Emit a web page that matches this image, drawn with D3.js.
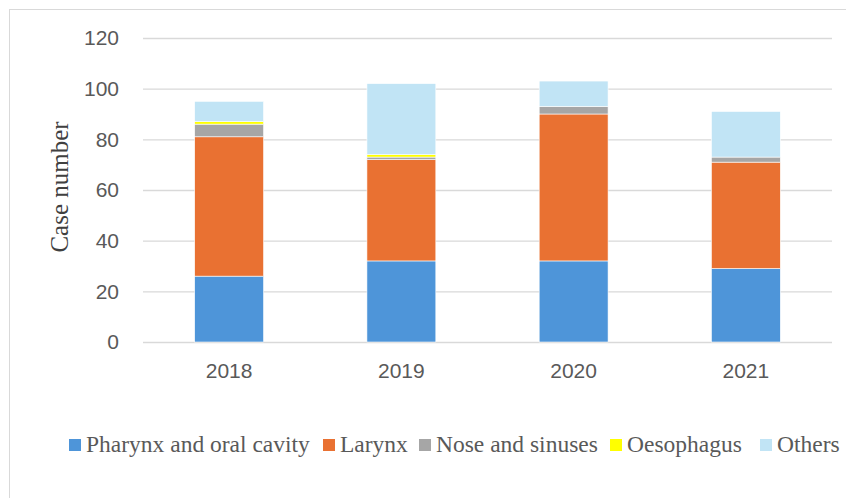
<!DOCTYPE html>
<html>
<head>
	<meta charset="utf-8">
	<title>Case number by year</title>
	<script src="https://cdn.jsdelivr.net/npm/d3@7"></script>
	<style type="text/css">
		body { margin: 0; background: #fff; }
		.tick text { fill: #595959; font-family: "Liberation Sans", Arial, sans-serif; font-size: 21px; }
	</style>
</head>
<body>

	<svg width="846" height="498" class="bar-chart"></svg>

	<script type="text/javascript">

		var years = ['2018', '2019', '2020', '2021']
		var series_names = ['Pharynx and oral cavity', 'Larynx', 'Nose and sinuses', 'Oesophagus', 'Others']
		var pharynx = [26, 32, 32, 29]
		var larynx = [55, 40, 58, 42]
		var nose = [5, 1, 3, 2]
		var oesophagus = [1, 1, 0, 0]
		var others = [8, 28, 10, 18]
		var y_ticks = [0, 20, 40, 60, 80, 100, 120]

		var colors = ['#4E95D9', '#E97132', '#A6A6A6', '#FFFF00', '#C1E4F5']
		var series_values = [pharynx, larynx, nose, oesophagus, others]

		// table for d3.stack
		var data = years.map(function(y, i) {
			var row = {'year': y}
			series_names.forEach(function(s, k) { row[s] = series_values[k][i] })
			return row
		})

		var svg = d3.select('.bar-chart')

		// outer frame (only left and top are visible)
		svg.append('rect')
			.attr('x', 9.5).attr('y', 9.5)
			.attr('width', 900).attr('height', 600)
			.attr('fill', 'none')
			.attr('stroke', '#d9d9d9')

		margin = {'top': 38, 'left': 143, 'right': 14, 'bottom': 156}
		active_width = 846 - margin.left - margin.right
		active_height = 498 - margin.top - margin.bottom

		var g = svg.append('g')
			.attr('transform', 'translate(' + margin.left + ',' + margin.top + ')')

		yaxis_scale = d3.scaleLinear()
			.range([active_height, 0])
			.domain([0, 120])

		xaxis_scale = d3.scaleBand()
			.range([0, active_width])
			.domain(years)
			.paddingInner(0.6)
			.paddingOuter(0.3)

		// gridlines + y labels
		var yaxis = g.append('g')
			.call(d3.axisLeft(yaxis_scale).tickValues(y_ticks).tickSize(-active_width).tickPadding(24))
		yaxis.select('.domain').remove()
		yaxis.selectAll('.tick line').attr('stroke', '#d9d9d9').attr('stroke-width', 1.3)

		var xaxis = g.append('g')
			.attr('transform', 'translate(0,' + active_height + ')')
			.call(d3.axisBottom(xaxis_scale).tickSize(0).tickPadding(21))
		xaxis.select('.domain').remove()

		var stacked = d3.stack().keys(series_names)(data)

		g.append('g')
			.selectAll('g')
			.data(stacked)
			.enter()
			.append('g')
			.attr('fill', function(d, i) { return colors[i] })
			.selectAll('rect')
			.data(function(d) { return d })
			.enter()
			.append('rect')
			.attr('x', function(d) { return xaxis_scale(d.data.year) })
			.attr('y', function(d) { return yaxis_scale(d[1]) })
			.attr('height', function(d) { return yaxis_scale(d[0]) - yaxis_scale(d[1]) })
			.attr('width', xaxis_scale.bandwidth())
			.attr('stroke', '#fff')
			.attr('stroke-width', 0.6)

		// y axis title
		svg.append('text')
			.attr('transform', 'translate(68,187) rotate(-90)')
			.attr('text-anchor', 'middle')
			.attr('font-family', '"Liberation Serif", "Times New Roman", serif')
			.attr('font-size', 25)
			.attr('fill', '#404040')
			.text('Case number')

		// legend
		var legend_x = [69, 323, 419, 610, 760]
		var legend = svg.append('g')
			.selectAll('g')
			.data(series_names)
			.enter()
			.append('g')
			.attr('transform', function(d, i) { return 'translate(' + legend_x[i] + ',439)' })

		legend.append('rect')
			.attr('width', 12).attr('height', 12)
			.attr('fill', function(d, i) { return colors[i] })

		legend.append('text')
			.attr('x', 17)
			.attr('y', 13)
			.attr('font-family', '"Liberation Serif", "Times New Roman", serif')
			.attr('font-size', 23.5)
			.attr('fill', '#595959')
			.text(function(d) { return d })

	</script>

</body>
</html>
